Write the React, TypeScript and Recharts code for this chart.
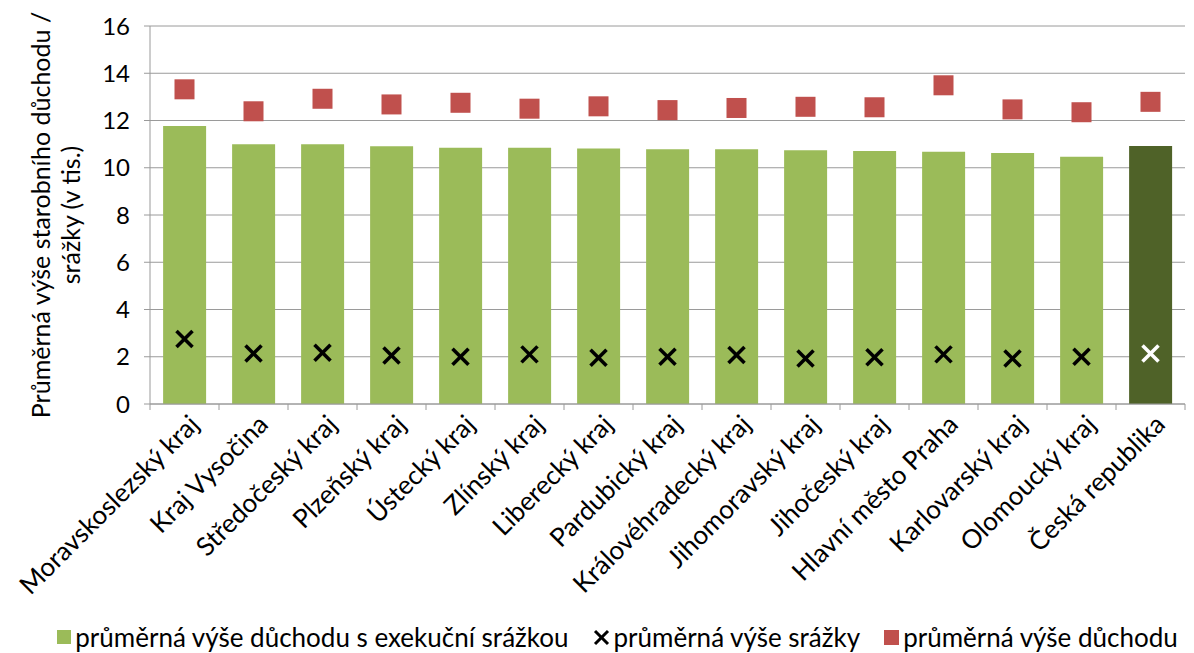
import {
  Bar,
  Cell,
  CartesianGrid,
  ComposedChart,
  Legend,
  Line,
  XAxis,
  YAxis,
} from "recharts";

const regions = [
  "Moravskoslezský kraj",
  "Kraj Vysočina",
  "Středočeský kraj",
  "Plzeňský kraj",
  "Ústecký kraj",
  "Zlínský kraj",
  "Liberecký kraj",
  "Pardubický kraj",
  "Královéhradecký kraj",
  "Jihomoravský kraj",
  "Jihočeský kraj",
  "Hlavní město Praha",
  "Karlovarský kraj",
  "Olomoucký kraj",
  "Česká republika",
];

// průměrná výše důchodu s exekuční srážkou (tis. Kč)
const pensionWithDeduction = [
  11.77, 10.99, 10.99, 10.91, 10.85, 10.85, 10.81, 10.78, 10.78, 10.74, 10.71,
  10.68, 10.62, 10.47, 10.92,
];
// průměrná výše srážky
const deduction = [
  2.75, 2.14, 2.17, 2.05, 2.0, 2.1, 1.96, 2.0, 2.07, 1.93, 1.98, 2.1, 1.93, 2.0,
  2.14,
];
// průměrná výše důchodu
const pension = [
  13.32, 12.39, 12.92, 12.68, 12.75, 12.5, 12.6, 12.44, 12.53, 12.58, 12.56,
  13.49, 12.47, 12.35, 12.79,
];

const yTicks = [0, 2, 4, 6, 8, 10, 12, 14, 16];

const data = regions.map((name, i) => ({
  name,
  withDeduction: pensionWithDeduction[i],
  deduction: deduction[i],
  pension: pension[i],
}));

const FONT = "Lato, 'Open Sans', sans-serif";
const GREEN = "#9bbb59";
const DARK_GREEN = "#4f6228";
const RED = "#c0504d";
const GRID = "#9a9a9a";

const W = 1194;
const H = 653;
const M = { top: 26, right: 9, left: 0, bottom: 0 };
const Y_AXIS_W = 150;
const BAND = (W - M.left - M.right - Y_AXIS_W) / regions.length;

const XTick = (props: any) => {
  const { x, y, payload, index } = props;
  const last = index === regions.length - 1;
  return (
    <g>
      <line x1={x - BAND / 2} x2={x - BAND / 2} y1={y} y2={y + 6} stroke={GRID} />
      {last && (
        <line x1={x + BAND / 2} x2={x + BAND / 2} y1={y} y2={y + 6} stroke={GRID} />
      )}
      <text
        transform={`translate(${x + 9},${y + 15}) rotate(-45)`}
        textAnchor="end"
        dominantBaseline="central"
        fontSize={26}
        fontFamily={FONT}
        fill="#000"
      >
        {payload.value}
      </text>
    </g>
  );
};

const XMark = (props: any) => {
  const { cx, cy, index } = props;
  if (cx == null || cy == null) return null;
  const s = 8;
  const color = index === regions.length - 1 ? "#ffffff" : "#000000";
  return (
    <g key={`x-${index}`}>
      <line x1={cx - s} y1={cy - s} x2={cx + s} y2={cy + s} stroke={color} strokeWidth={3.5} />
      <line x1={cx - s} y1={cy + s} x2={cx + s} y2={cy - s} stroke={color} strokeWidth={3.5} />
    </g>
  );
};

const SquareMark = (props: any) => {
  const { cx, cy, index } = props;
  if (cx == null || cy == null) return null;
  return <rect key={`sq-${index}`} x={cx - 10} y={cy - 10} width={20} height={20} fill={RED} />;
};

const YLabel = (props: any) => {
  const vb = props.viewBox || { x: 0, y: M.top, height: 378 };
  const cy = vb.y + vb.height / 2;
  const cx = 41;
  return (
    <text
      transform={`rotate(-90, ${cx}, ${cy})`}
      x={cx}
      y={cy}
      textAnchor="middle"
      fontSize={25}
      fontFamily={FONT}
      fill="#000"
    >
      <tspan x={cx} dy="0.35em">Průměrná výše starobního důchodu /</tspan>
      <tspan x={cx} dy="1.2em">srážky (v tis.)</tspan>
    </text>
  );
};

const LegendContent = () => (
  <div
    style={{
      display: "flex",
      alignItems: "center",
      justifyContent: "center",
      fontFamily: FONT,
      fontSize: 26,
      color: "#000",
      whiteSpace: "nowrap",
      paddingLeft: 50,
      paddingTop: 8,
    }}
  >
    <span style={{ display: "inline-block", width: 14, height: 14, background: GREEN, marginRight: 4 }} />
    <span style={{ marginRight: 24 }}>průměrná výše důchodu s exekuční srážkou</span>
    <svg width={17} height={17} style={{ marginRight: 4 }}>
      <line x1={2} y1={2} x2={15} y2={15} stroke="#000" strokeWidth={3} />
      <line x1={2} y1={15} x2={15} y2={2} stroke="#000" strokeWidth={3} />
    </svg>
    <span style={{ marginRight: 24 }}>průměrná výše srážky</span>
    <span style={{ display: "inline-block", width: 15, height: 15, background: RED, marginRight: 4 }} />
    <span>průměrná výše důchodu</span>
  </div>
);

export default function App() {
  return (
    <div style={{ position: "absolute", left: 0, top: 0, background: "#fff" }}>
      <ComposedChart width={W} height={H} data={data} margin={M} barCategoryGap="19%">
        <CartesianGrid vertical={false} stroke={GRID} />
        <XAxis
          dataKey="name"
          interval={0}
          height={209}
          tickLine={false}
          tickSize={0}
          tickMargin={0}
          tick={<XTick />}
          axisLine={{ stroke: GRID }}
        />
        <YAxis
          width={Y_AXIS_W}
          domain={[0, 16]}
          ticks={yTicks}
          interval={0}
          tickSize={6}
          tickMargin={14}
          tickLine={{ stroke: GRID }}
          axisLine={{ stroke: GRID }}
          tick={{ fill: "#000", fontSize: 24, fontFamily: FONT }}
          label={{ content: <YLabel /> }}
        />
        <Legend verticalAlign="bottom" height={40} content={<LegendContent />} />
        <Bar dataKey="withDeduction" fill={GREEN} isAnimationActive={false}>
          {data.map((_, i) => (
            <Cell key={i} fill={i === data.length - 1 ? DARK_GREEN : GREEN} />
          ))}
        </Bar>
        <Line
          dataKey="deduction"
          stroke="none"
          dot={<XMark />}
          activeDot={false}
          isAnimationActive={false}
        />
        <Line
          dataKey="pension"
          stroke="none"
          dot={<SquareMark />}
          activeDot={false}
          isAnimationActive={false}
        />
      </ComposedChart>
    </div>
  );
}
